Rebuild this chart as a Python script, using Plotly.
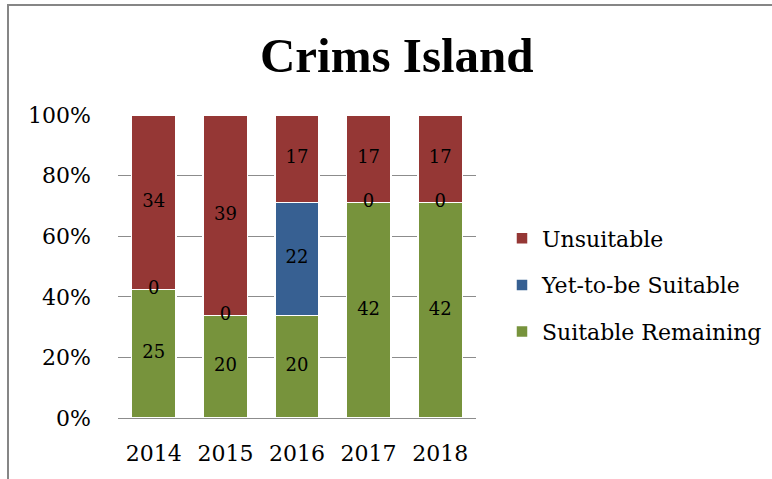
import plotly.graph_objects as go

years = ["2014", "2015", "2016", "2017", "2018"]
suitable_remaining = [25, 20, 20, 42, 42]
yet_to_be_suitable = [0, 0, 22, 0, 0]
unsuitable = [34, 39, 17, 17, 17]
y_ticks = [0, 20, 40, 60, 80, 100]
y_tick_labels = ["0%", "20%", "40%", "60%", "80%", "100%"]

series = [
    ("Suitable Remaining", suitable_remaining, "#77933C", 3),
    ("Yet-to-be Suitable", yet_to_be_suitable, "#376092", 2),
    ("Unsuitable", unsuitable, "#953735", 1),
]

FONT = "DejaVu Serif"
fig = go.Figure()
for name, vals, col, rank in series:
    fig.add_trace(go.Bar(
        x=years, y=vals, name=name, legendgroup=name, legendrank=rank,
        marker=dict(color=col, line=dict(color="white", width=1.5)),
        hoverinfo="skip",
    ))

# data labels at the middle of each normalised segment
totals = [sum(v) for v in zip(*[s[1] for s in series])]
lab_x, lab_y, lab_t = [], [], []
for j, yr in enumerate(years):
    base = 0.0
    for name, vals, col, rank in series:
        pct = vals[j] / totals[j] * 100
        lab_x.append(yr)
        lab_y.append(base + pct / 2)
        lab_t.append(str(vals[j]))
        base += pct
fig.add_trace(go.Scatter(
    x=lab_x, y=lab_y, text=lab_t, mode="text", showlegend=False,
    textfont=dict(family=FONT, size=18, color="black"), hoverinfo="skip",
))

fig.update_layout(
    width=772, height=479,
    margin=dict(l=118, r=296, t=115, b=61, autoexpand=False),
    barmode="stack", barnorm="percent", bargap=0.38,
    paper_bgcolor="white", plot_bgcolor="white",
    title=dict(text="<b>Crims Island</b>", x=0.514, xanchor="center",
               y=1 - 55 / 479, yanchor="middle", yref="container",
               font=dict(family="Liberation Serif", size=49, color="black")),
    legend=dict(x=(502 - 118) / 358, xanchor="left", y=(418 - 285) / 303,
                yanchor="middle",
                traceorder="grouped", tracegroupgap=15,
                font=dict(family=FONT, size=22, color="black"),
                bgcolor="rgba(0,0,0,0)"),
    showlegend=True,
    hovermode=False,
)
fig.update_xaxes(type="category", showgrid=False, showline=False,
                 ticks="", ticklabelstandoff=20,
                 tickfont=dict(family=FONT, size=22, color="black"))
fig.update_yaxes(range=[0, 100], tickmode="array", tickvals=y_ticks,
                 ticktext=y_tick_labels,
                 showgrid=True, gridcolor="#8c8c8c", gridwidth=1,
                 zeroline=True, zerolinecolor="#8c8c8c", zerolinewidth=1,
                 showline=False, ticks="", ticklabelstandoff=26,
                 tickfont=dict(family=FONT, size=22, color="black"))

# outer chart frame (top and left edges visible)
fig.add_shape(type="line", xref="paper", yref="paper",
              x0=(8 - 118) / 358, x1=(780 - 118) / 358,
              y0=(418 - 5) / 303, y1=(418 - 5) / 303,
              line=dict(color="#868686", width=2))
fig.add_shape(type="line", xref="paper", yref="paper",
              x0=(8 - 118) / 358, x1=(8 - 118) / 358,
              y0=(418 - 4) / 303, y1=(418 - 485) / 303,
              line=dict(color="#868686", width=2))

fig.write_html("out.html",
               config={"displayModeBar": False},
               post_script="document.body.style.margin='0';"
                           "document.body.style.overflow='hidden';")
